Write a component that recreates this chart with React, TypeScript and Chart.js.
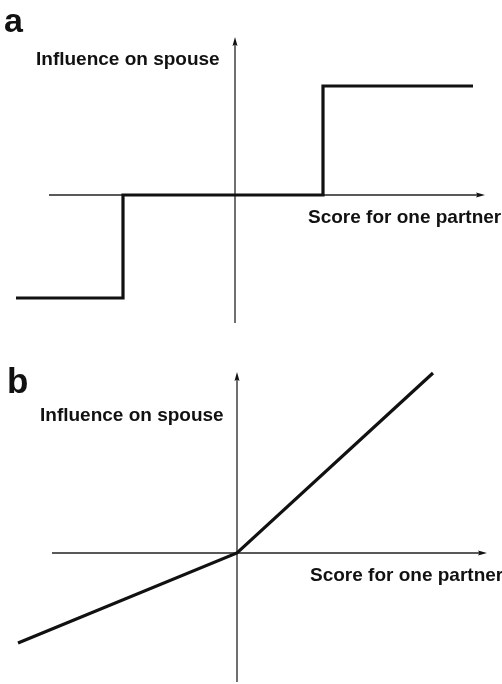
import { useEffect, useRef } from "react";
import { Chart, registerables } from "chart.js";

Chart.register(...registerables);

// ---- Data (abstract units, origin at the axes crossing) ----
// Panel a: step-shaped influence function
const stepX = [-10.95, -5.6, -5.6, 4.4, 4.4, 11.9];
const stepY = [-5.15, -5.15, 0, 0, 5.45, 5.45];
// Panel b: kinked linear influence function
const kinkX = [-10.95, 0, 9.8];
const kinkY = [-4.5, 0, 9.0];
// Axis extents (x from, x to / y from, y to)
const axisXa = [-9.3, 12.275];
const axisYa = [-6.4, 7.675];
const axisXb = [-9.25, 12.275];
const axisYb = [-6.45, 8.825];
// Text
const panelLetters = ["a", "b"];
const yAxisTitle = "Influence on spouse";
const xAxisTitle = "Score for one partner";

const FONT_FAMILY = '"Liberation Sans", Arial, Helvetica, sans-serif';

function makeArrow(): HTMLCanvasElement {
  const c = document.createElement("canvas");
  c.width = 9;
  c.height = 6;
  const g = c.getContext("2d")!;
  g.fillStyle = "#111";
  g.beginPath();
  g.moveTo(0, 0.5);
  g.lineTo(9, 3);
  g.lineTo(0, 5.5);
  g.lineTo(1.5, 3);
  g.closePath();
  g.fill();
  return c;
}

type TextItem = { text: string; x: number; y: number; size: number };

const textPlugin = {
  id: "panelText",
  afterDraw(chart: any, _args: any, opts: any) {
    const items: TextItem[] = opts.items || [];
    const ctx = chart.ctx;
    const xs = chart.scales.x;
    const ys = chart.scales.y;
    ctx.save();
    ctx.fillStyle = "#111";
    ctx.textAlign = "left";
    ctx.textBaseline = "alphabetic";
    for (const it of items) {
      ctx.font = `bold ${it.size}px ${FONT_FAMILY}`;
      ctx.fillText(it.text, xs.getPixelForValue(it.x), ys.getPixelForValue(it.y));
    }
    ctx.restore();
  },
};

type PanelProps = {
  top: number;
  height: number;
  lineX: number[];
  lineY: number[];
  axisX: number[];
  axisY: number[];
  view: { xMin: number; xMax: number; yMin: number; yMax: number };
  texts: TextItem[];
};

function Panel({ top, height, lineX, lineY, axisX, axisY, view, texts }: PanelProps) {
  const ref = useRef<HTMLCanvasElement | null>(null);
  useEffect(() => {
    if (!ref.current) return;
    const arrow = makeArrow();
    const chart = new Chart(ref.current, {
      type: "line",
      data: {
        datasets: [
          {
            data: lineX.map((x, i) => ({ x, y: lineY[i] })),
            borderColor: "#111",
            borderWidth: 3.2,
            pointRadius: 0,
            tension: 0,
            fill: false,
            borderJoinStyle: "miter",
            borderCapStyle: "butt",
          },
          {
            data: [
              { x: axisX[0], y: 0 },
              { x: axisX[1], y: 0 },
            ],
            borderColor: "#222",
            borderWidth: 1.3,
            pointRadius: [0, 3],
            pointStyle: arrow,
            pointRotation: 0,
            tension: 0,
            fill: false,
          },
          {
            data: [
              { x: 0, y: axisY[0] },
              { x: 0, y: axisY[1] },
            ],
            borderColor: "#222",
            borderWidth: 1.3,
            pointRadius: [0, 3],
            pointStyle: arrow,
            pointRotation: -90,
            tension: 0,
            fill: false,
          },
        ] as any,
      },
      options: {
        responsive: false,
        animation: false,
        events: [],
        layout: { padding: 0, autoPadding: false },
        scales: {
          x: { type: "linear", min: view.xMin, max: view.xMax, display: false },
          y: { type: "linear", min: view.yMin, max: view.yMax, display: false },
        },
        plugins: {
          legend: { display: false },
          tooltip: { enabled: false },
          panelText: { items: texts },
        } as any,
      },
      plugins: [textPlugin],
    });
    return () => chart.destroy();
  }, []);
  return (
    <canvas
      ref={ref}
      width={502}
      height={height}
      style={{ position: "absolute", left: 0, top, width: 502, height, display: "block" }}
    />
  );
}

export default function App() {
  return (
    <div
      style={{
        position: "absolute",
        left: 0,
        top: 0,
        width: 502,
        height: 684,
        background: "#fff",
        overflow: "hidden",
      }}
    >
      <Panel
        top={0}
        height={340}
        lineX={stepX}
        lineY={stepY}
        axisX={axisXa}
        axisY={axisYa}
        view={{ xMin: -11.75, xMax: 13.35, yMin: -7.25, yMax: 9.75 }}
        texts={[
          { text: panelLetters[0], x: -11.55, y: 8.15, size: 34 },
          { text: yAxisTitle, x: -9.95, y: 6.5, size: 19 },
          { text: xAxisTitle, x: 3.65, y: -1.4, size: 19 },
        ]}
      />
      <Panel
        top={340}
        height={344}
        lineX={kinkX}
        lineY={kinkY}
        axisX={axisXb}
        axisY={axisYb}
        view={{ xMin: -11.85, xMax: 13.25, yMin: -6.55, yMax: 10.65 }}
        texts={[
          { text: panelLetters[1], x: -11.5, y: 8.0, size: 35 },
          { text: yAxisTitle, x: -9.85, y: 6.6, size: 19 },
          { text: xAxisTitle, x: 3.65, y: -1.4, size: 19 },
        ]}
      />
    </div>
  );
}
